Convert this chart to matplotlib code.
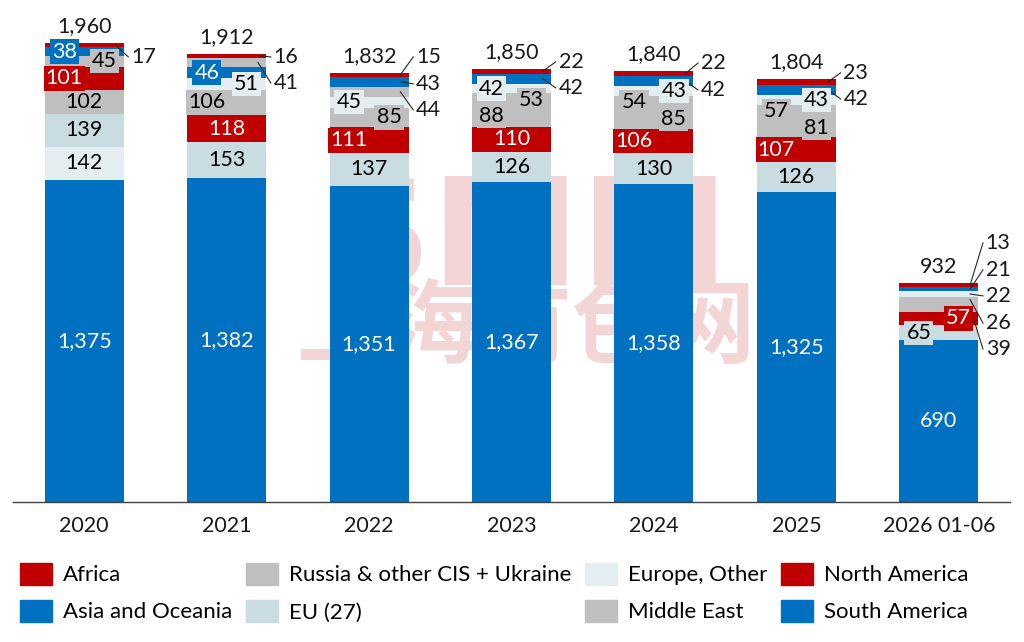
import matplotlib
matplotlib.use('Agg')
import matplotlib.pyplot as plt
import matplotlib.patches as mpatches
import numpy as np

plt.rcParams['font.family'] = ['Lato', 'DejaVu Sans']

BLUE = '#0070C0'
RED = '#C00000'
GRAY = '#BFBFBF'
EU_COL = '#C9DCE1'
EO_COL = '#E4EEF1'
MARK = '#F4D5D5'

years = ['2020', '2021', '2022', '2023', '2024', '2025', '2026 01-06']
asia = [1375, 1382, 1351, 1367, 1358, 1325, 690]
eu27 = [139, 153, 137, 126, 130, 126, 65]
europe_other = [142, 51, 45, 42, 43, 43, 22]
north_america = [101, 118, 111, 110, 106, 107, 57]
middle_east = [102, 106, 85, 88, 85, 81, 39]
russia = [45, 41, 44, 53, 54, 57, 26]
south_america = [38, 46, 43, 42, 42, 42, 21]
africa = [17, 16, 15, 22, 22, 23, 13]
totals = [1960, 1912, 1832, 1850, 1840, 1804, 932]

# name, values, colour, label text colour
series = [
    ('Asia and Oceania', asia, BLUE, 'white'),
    ('EU (27)', eu27, EU_COL, 'black'),
    ('North America', north_america, RED, 'white'),
    ('Middle East', middle_east, GRAY, 'black'),
    ('Europe, Other', europe_other, EO_COL, 'black'),
    ('Russia & other CIS + Ukraine', russia, GRAY, 'black'),
    ('South America', south_america, BLUE, 'white'),
    ('Africa', africa, RED, 'white'),
]

# label placement per bar: L/R = shifted box inside, O = callout (text y in data units)
label_pos = [
    {'North America': 'L', 'Russia & other CIS + Ukraine': 'R', 'South America': 'L',
     'Africa': ('O', 1900)},
    {'Middle East': 'L', 'Europe, Other': 'R', 'South America': 'L',
     'Russia & other CIS + Ukraine': ('O', 1789), 'Africa': ('O', 1900)},
    {'North America': 'L', 'Middle East': 'R', 'Europe, Other': 'L',
     'Russia & other CIS + Ukraine': ('O', 1674), 'South America': ('O', 1785),
     'Africa': ('O', 1900)},
    {'Middle East': 'L', 'Russia & other CIS + Ukraine': 'R', 'Europe, Other': 'L',
     'South America': ('O', 1768), 'Africa': ('O', 1879)},
    {'North America': 'L', 'Middle East': 'R', 'Russia & other CIS + Ukraine': 'L',
     'Europe, Other': 'R', 'South America': ('O', 1759), 'Africa': ('O', 1874)},
    {'North America': 'L', 'Middle East': 'R', 'Russia & other CIS + Ukraine': 'L',
     'Europe, Other': 'R', 'South America': ('O', 1721), 'Africa': ('O', 1832)},
    {'EU (27)': 'L', 'North America': 'R', 'Middle East': ('O', 653),
     'Russia & other CIS + Ukraine': ('O', 764), 'Europe, Other': ('O', 880),
     'South America': ('O', 991), 'Africa': ('O', 1106)},
]

FS = 15.5

fig = plt.figure(figsize=(10.24, 6.42), dpi=100)
ax = fig.add_axes([13/1024, 0.218, 997/1024, 0.782])
ax.set_xlim(-0.5, 6.5)
ax.set_ylim(0, 2143)

# watermark
ax.text(0.515, 0.515, 'SMM', transform=ax.transAxes, ha='center', va='center',
        fontsize=108, fontweight='bold', color=MARK, zorder=0,
        family=['DejaVu Sans'])
ax.text(0.515, 0.345, '上海有色网', transform=ax.transAxes, ha='center', va='center',
        fontsize=66, fontweight='bold', color=MARK, zorder=0,
        family=['Noto Sans CJK SC', 'DejaVu Sans'])

x = np.arange(len(years))
width = 0.555
shift = 0.14

for i in range(len(years)):
    # each bar is stacked largest at the bottom
    order = sorted(series, key=lambda s: -s[1][i])
    bottom = 0
    for name, vals, col, tcol in order:
        v = vals[i]
        ax.bar(x[i], v, width, bottom=bottom, color=col, zorder=2)
        yc = bottom + v / 2
        pos = label_pos[i].get(name, 'C')
        txt = f'{v:,}'
        if isinstance(pos, tuple):
            ty = pos[1]
            ax.plot([x[i] + 0.22, x[i] + 0.31], [yc, ty], color='#262626',
                    lw=0.8, zorder=4)
            ax.text(x[i] + 0.33, ty, txt, ha='left', va='center', fontsize=FS,
                    color='#1a1a1a', zorder=5)
        elif pos == 'C':
            ax.text(x[i], yc, txt, ha='center', va='center', fontsize=FS,
                    color=tcol, zorder=5)
        else:
            dx = -shift if pos == 'L' else shift
            ax.text(x[i] + dx, yc, txt, ha='center', va='center', fontsize=FS,
                    color=tcol, zorder=5,
                    bbox=dict(boxstyle='square,pad=0.1', fc=col, ec='none'))
        bottom += v
    ax.annotate(f'{totals[i]:,}', (x[i], bottom), xytext=(0, 5),
                textcoords='offset points', ha='center', va='bottom',
                fontsize=FS, color='#1a1a1a', zorder=5)

ax.set_xticks(x)
ax.set_xticklabels(years, fontsize=FS, color='#1a1a1a')
ax.tick_params(axis='x', length=0, pad=10)
ax.set_yticks([])
for s in ['top', 'right', 'left']:
    ax.spines[s].set_visible(False)
ax.spines['bottom'].set_color('#404040')
ax.spines['bottom'].set_linewidth(1.0)

lookup = {s[0]: s[2] for s in series}
leg_order = ['Africa', 'Asia and Oceania', 'Russia & other CIS + Ukraine', 'EU (27)',
             'Europe, Other', 'Middle East', 'North America', 'South America']
handles = [mpatches.Patch(color=lookup[n], label=n) for n in leg_order]
fig.legend(handles=handles, ncol=4, loc='upper left',
           bbox_to_anchor=(20/1024, 1 - 563/642), frameon=False, fontsize=16,
           handlelength=1.45, handleheight=1.12, handletextpad=0.5,
           columnspacing=0.6, labelspacing=0.66, borderpad=0, borderaxespad=0)

fig.savefig('out.png', dpi=100)
